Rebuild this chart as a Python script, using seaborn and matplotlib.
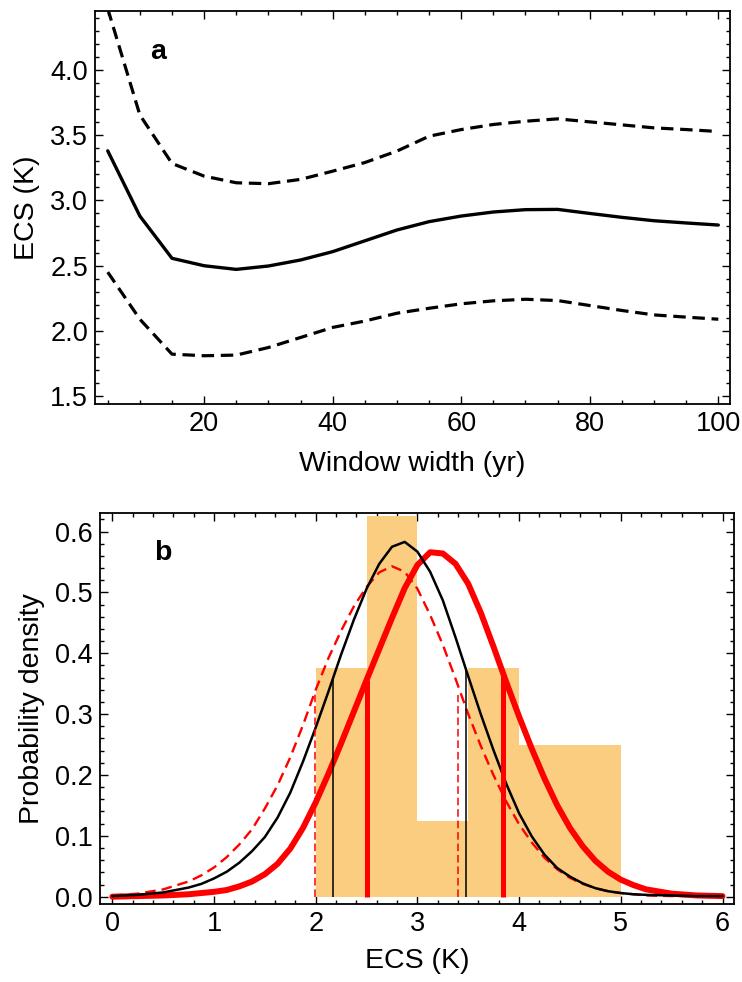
"""
Two-panel ECS figure: (a) ECS estimate vs window width with bounds,
(b) histogram of ECS estimates with fitted probability densities.
"""

import pandas as pd
import seaborn as sns
import matplotlib
matplotlib.use("Agg")
import matplotlib.pyplot as plt
from matplotlib.ticker import MultipleLocator, FormatStrFormatter

# ---- panel a: ECS vs window width ----
window_yr = [5, 10, 15, 20, 25, 30, 35, 40, 45, 50,
             55, 60, 65, 70, 75, 80, 85, 90, 95, 100]
ecs_mid = [3.38, 2.88, 2.556, 2.499, 2.471, 2.497, 2.543, 2.607, 2.69, 2.773,
           2.837, 2.880, 2.911, 2.929, 2.931, 2.900, 2.870, 2.844, 2.827, 2.811]
ecs_hi = [4.47, 3.655, 3.283, 3.186, 3.135, 3.128, 3.161, 3.224, 3.29, 3.378,
          3.492, 3.543, 3.582, 3.607, 3.625, 3.602, 3.579, 3.556, 3.543, 3.528]
ecs_lo = [2.45, 2.089, 1.821, 1.809, 1.814, 1.872, 1.949, 2.026, 2.075, 2.135,
          2.173, 2.207, 2.230, 2.242, 2.232, 2.194, 2.156, 2.122, 2.105, 2.089]

# ---- panel b: histogram + densities ----
bin_edges = [2.0, 2.5, 3.0, 3.5, 4.0, 5.0]
bin_counts = [3, 5, 1, 3, 4]

ecs_grid = [0, 0.25, 0.5,
            0.75, 0.875, 1.0, 1.125, 1.25, 1.375, 1.5, 1.625, 1.75, 1.875,
            2.0, 2.125, 2.25, 2.375, 2.5, 2.625, 2.75, 2.875,
            3.0, 3.125, 3.25, 3.375, 3.5, 3.625, 3.75, 3.875,
            4.0, 4.125, 4.25, 4.375, 4.5, 4.625, 4.75, 4.875,
            5.0, 5.125, 5.25, 5.5, 5.75, 6.0]
pdf_black = [0.001, 0.003, 0.007,
             0.015, 0.021, 0.030, 0.041, 0.056, 0.075, 0.098, 0.130, 0.171, 0.222,
             0.278, 0.337, 0.398, 0.455, 0.506, 0.547, 0.575, 0.583,
             0.567, 0.534, 0.487, 0.426, 0.362, 0.299, 0.240, 0.185,
             0.137, 0.099, 0.069, 0.047, 0.033, 0.022, 0.014, 0.009,
             0.006, 0.004, 0.003, 0.002, 0.001, 0.001]
pdf_red = [0.000, 0.001, 0.002,
           0.004, 0.006, 0.008, 0.011, 0.017, 0.025, 0.037, 0.054, 0.079, 0.113,
           0.155, 0.202, 0.252, 0.304, 0.356, 0.407, 0.458, 0.507,
           0.545, 0.566, 0.564, 0.547, 0.514, 0.466, 0.410, 0.352,
           0.296, 0.243, 0.194, 0.150, 0.113, 0.083, 0.059, 0.041,
           0.028, 0.019, 0.012, 0.005, 0.002, 0.001]
pdf_red_dash = [0.002, 0.005, 0.012,
                0.025, 0.035, 0.048, 0.065, 0.086, 0.111, 0.145, 0.183, 0.229, 0.282,
                0.340, 0.392, 0.437, 0.477, 0.509, 0.533, 0.543, 0.534,
                0.506, 0.463, 0.414, 0.358, 0.300, 0.247, 0.199, 0.156,
                0.119, 0.089, 0.064, 0.045, 0.031, 0.021, 0.014, 0.009,
                0.006, 0.004, 0.002, 0.001, 0.001, 0.001]

# likely ranges (vertical markers) and their heights
black_bounds = [2.17, 3.475]
black_heights = [0.359, 0.373]
red_bounds = [2.50, 3.84]
red_heights = [0.356, 0.364]
red_dash_bounds = [1.993, 3.40]
red_dash_heights = [0.337, 0.331]

HIST_COLOR = "#fbcd80"
LABEL_SIZE = 20.5
TICK_SIZE = 19.5


def style_axes(ax):
    ax.tick_params(which="both", direction="in", top=True, right=True,
                   width=1.0, labelsize=TICK_SIZE, pad=5, colors="black")
    ax.tick_params(which="major", length=6)
    ax.tick_params(which="minor", length=3)
    for sp in ax.spines.values():
        sp.set_linewidth(1.3)
        sp.set_color("black")


def main():
    sns.set_style("ticks")
    plt.rcParams["font.family"] = ["Liberation Sans", "DejaVu Sans"]
    plt.rcParams["text.color"] = "black"
    plt.rcParams["axes.labelcolor"] = "black"

    fig = plt.figure(figsize=(7.42, 9.82), dpi=100)
    ax_a = fig.add_axes([95 / 742, 1 - 404 / 982, 635 / 742, 393 / 982])
    ax_b = fig.add_axes([100 / 742, 1 - 904 / 982, 634.3 / 742, 391.3 / 982])

    # panel a
    df_a = pd.DataFrame({"window": window_yr, "mid": ecs_mid,
                         "hi": ecs_hi, "lo": ecs_lo})
    dash_a = (0, (3.9, 2.1))
    sns.lineplot(data=df_a, x="window", y="hi", ax=ax_a, color="black",
                 linewidth=2.3, linestyle=dash_a)
    sns.lineplot(data=df_a, x="window", y="lo", ax=ax_a, color="black",
                 linewidth=2.3, linestyle=dash_a)
    sns.lineplot(data=df_a, x="window", y="mid", ax=ax_a, color="black",
                 linewidth=2.4)
    ax_a.set_xlim(3.02, 101.82)
    ax_a.set_ylim(1.439, 4.452)
    ax_a.xaxis.set_major_locator(MultipleLocator(20))
    ax_a.xaxis.set_minor_locator(MultipleLocator(5))
    ax_a.yaxis.set_major_locator(MultipleLocator(0.5))
    ax_a.yaxis.set_minor_locator(MultipleLocator(0.1))
    ax_a.yaxis.set_major_formatter(FormatStrFormatter("%.1f"))
    ax_a.set_xlabel("Window width (yr)", fontsize=LABEL_SIZE, labelpad=10)
    ax_a.set_ylabel("ECS (K)", fontsize=LABEL_SIZE, labelpad=7)
    ax_a.text(12.9, 4.14, "a", fontsize=LABEL_SIZE, fontweight="bold",
              ha="center", va="center")
    style_axes(ax_a)

    # panel b
    centers = [(lo + hi) / 2 for lo, hi in zip(bin_edges[:-1], bin_edges[1:])]
    sns.histplot(x=centers, weights=bin_counts, bins=bin_edges, stat="density",
                 color=HIST_COLOR, alpha=1, linewidth=0, ax=ax_b)
    sns.lineplot(x=ecs_grid, y=pdf_red_dash, ax=ax_b, color="red",
                 linewidth=1.7, linestyle=(0, (4.5, 2.5)))
    sns.lineplot(x=ecs_grid, y=pdf_red, ax=ax_b, color="red", linewidth=4.3)
    sns.lineplot(x=ecs_grid, y=pdf_black, ax=ax_b, color="black", linewidth=1.8)
    ax_b.vlines(red_dash_bounds, 0, red_dash_heights, color="red",
                linewidth=1.1, linestyles=(0, (5, 2.5)), zorder=3)
    ax_b.vlines(red_bounds, 0, red_heights, color="red", linewidth=3.6, zorder=3)
    ax_b.vlines(black_bounds, 0, black_heights, color="black",
                linewidth=1.1, zorder=3)
    ax_b.set_xlim(-0.121, 6.116)
    ax_b.set_ylim(-0.012, 0.631)
    ax_b.xaxis.set_major_locator(MultipleLocator(1))
    ax_b.xaxis.set_minor_locator(MultipleLocator(0.2))
    ax_b.yaxis.set_major_locator(MultipleLocator(0.1))
    ax_b.yaxis.set_minor_locator(MultipleLocator(0.02))
    ax_b.yaxis.set_major_formatter(FormatStrFormatter("%.1f"))
    ax_b.set_xlabel("ECS (K)", fontsize=LABEL_SIZE, labelpad=8)
    ax_b.set_ylabel("Probability density", fontsize=LABEL_SIZE, labelpad=7)
    ax_b.text(0.5, 0.565, "b", fontsize=LABEL_SIZE, fontweight="bold",
              ha="center", va="center")
    style_axes(ax_b)

    fig.savefig("out.png", dpi=100)
    plt.close(fig)


if __name__ == "__main__":
    main()
